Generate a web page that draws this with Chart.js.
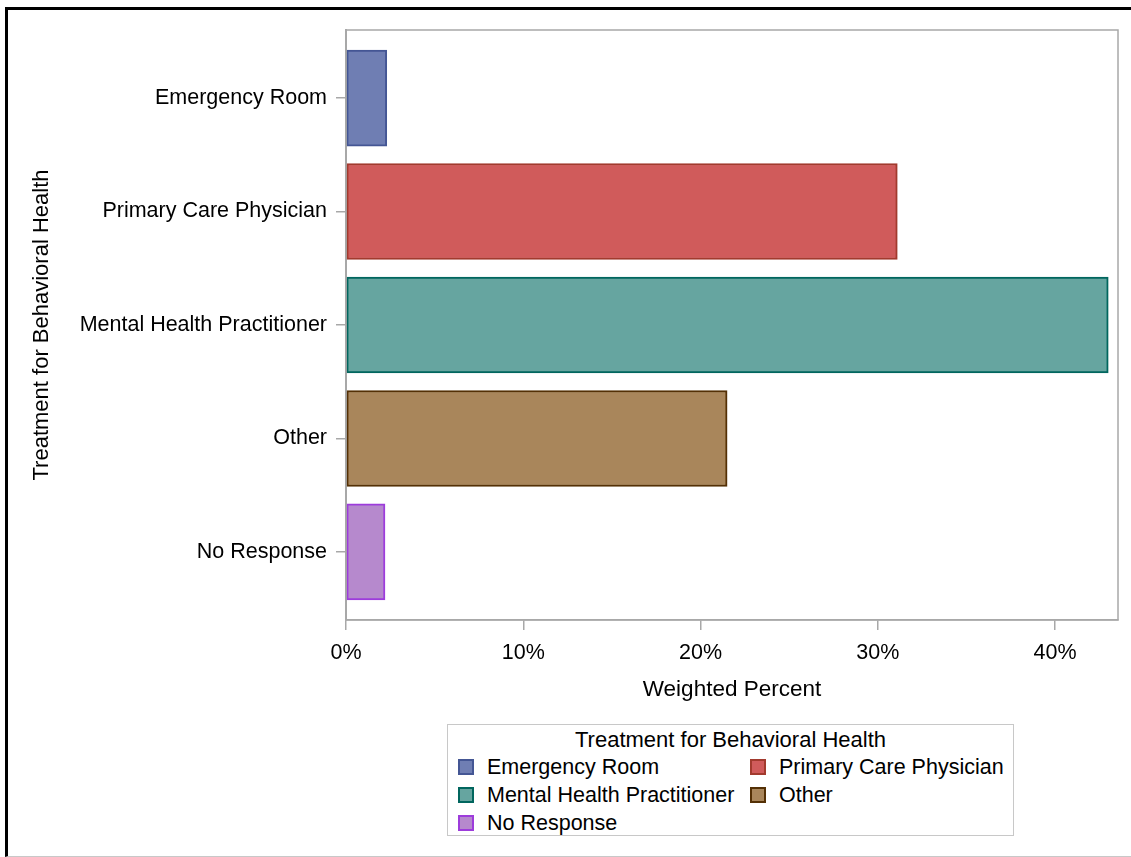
<!DOCTYPE html>
<html>
<head>
<meta charset="utf-8">
<script src="https://cdn.jsdelivr.net/npm/chart.js@4"></script>
<style>
  html, body { margin: 0; padding: 0; background: #fff; }
  body { width: 1131px; height: 857px; position: relative; overflow: hidden; font-family: 'Liberation Sans', Arial, sans-serif; }
  #frame { position: absolute; left: 5px; top: 7px; width: 1140px; height: 846px; border-top: 3px solid #000; border-left: 3px solid #000; border-bottom: 1px solid #c8c8c8; }
  #c { position: absolute; left: 0; top: 0; }
  #legend { position: absolute; left: 447px; top: 724px; width: 565px; height: 110px; border: 1px solid #c8c8c8; background: #fff; }
  #legend .title { position: absolute; left: 0; right: 0; top: 2px; text-align: center; font-size: 22px; line-height: 26px; color: #000; }
  #legend .item { position: absolute; font-size: 21.5px; line-height: 24px; color: #000; white-space: nowrap; }
  #legend .sw { position: absolute; width: 12px; height: 12px; border: 2px solid; top: 4px; left: 0; }
  #legend .lbl { position: absolute; left: 29px; top: 0; }
</style>
</head>
<body>
<div id="frame"></div>
<canvas id="c" width="1131" height="857"></canvas>
<div id="legend"><div class="title">Treatment for Behavioral Health</div></div>
<script>
const categories = ['Emergency Room', 'Primary Care Physician', 'Mental Health Practitioner', 'Other', 'No Response'];
const weightedPercent = [2.3, 31.1, 43.0, 21.5, 2.2];
const xTickValues = [0, 10, 20, 30, 40];
const fillColors = ['#6F7EB3', '#D05B5B', '#66A5A0', '#A9865B', '#B689CD'];
const lineColors = ['#445694', '#A23A2E', '#01665E', '#543005', '#9D3CDB'];
const yTitle = 'Treatment for Behavioral Health';
const xTitle = 'Weighted Percent';

const FONT = "'Liberation Sans', Arial, sans-serif";
const axisGrey = '#a8a8a8';

const datasets = categories.map((cat, i) => ({
  label: cat,
  data: [{ x: weightedPercent[i], y: i }],
  backgroundColor: fillColors[i],
  borderColor: lineColors[i],
  borderWidth: 2,
  borderSkipped: false,
  barThickness: 96,
  grouped: false
}));

const frameBox = {
  id: 'frameBox',
  afterDraw(chart) {
    const { ctx, chartArea: a } = chart;
    ctx.save();
    ctx.strokeStyle = axisGrey;
    ctx.lineWidth = 1.5;
    ctx.strokeRect(a.left, a.top, a.right - a.left, a.bottom - a.top);
    ctx.restore();
  }
};

new Chart(document.getElementById('c'), {
  type: 'bar',
  data: { datasets },
  plugins: [frameBox],
  options: {
    indexAxis: 'y',
    responsive: false,
    animation: false,
    events: [],
    layout: { padding: { left: 0, top: 30, right: 13, bottom: 137 } },
    plugins: { legend: { display: false }, tooltip: { enabled: false } },
    scales: {
      y: {
        type: 'linear',
        min: -0.6,
        max: 4.6,
        reverse: true,
        offset: false,
        afterBuildTicks(scale) { scale.ticks = categories.map((_, i) => ({ value: i })); },
        afterFit(scale) { scale.width = 346; },
        ticks: {
          callback: (v) => categories[v],
          font: { family: FONT, size: 21.5 },
          color: '#000',
          padding: 9,
          autoSkip: false
        },
        grid: { offset: false, drawOnChartArea: false, drawTicks: true, tickLength: 10, color: axisGrey, lineWidth: 1.5 },
        border: { display: true, color: axisGrey, width: 2 },
        title: { display: true, text: yTitle, font: { family: FONT, size: 22 }, color: '#000', padding: { top: 29, bottom: 0 } }
      },
      x: {
        type: 'linear',
        min: 0,
        max: 43.55,
        afterBuildTicks(scale) { scale.ticks = xTickValues.map(v => ({ value: v })); },
        afterFit(scale) { scale.height = 100; },
        ticks: {
          callback: (v) => v + '%',
          font: { family: FONT, size: 21.5 },
          color: '#000',
          padding: 10,
          maxRotation: 0
        },
        grid: { drawOnChartArea: false, drawTicks: true, tickLength: 10, color: axisGrey, lineWidth: 1.5 },
        border: { display: true, color: axisGrey, width: 1.5 },
        title: { display: true, text: xTitle, font: { family: FONT, size: 22.5 }, color: '#000', padding: { top: 0, bottom: 17 } }
      }
    }
  }
});

// HTML legend built from the same arrays
const legend = document.getElementById('legend');
categories.forEach((cat, i) => {
  const col = i % 2, row = Math.floor(i / 2);
  const item = document.createElement('div');
  item.className = 'item';
  item.style.left = (col === 0 ? 10 : 302) + 'px';
  item.style.top = (30 + row * 28) + 'px';
  const sw = document.createElement('span');
  sw.className = 'sw';
  sw.style.background = fillColors[i];
  sw.style.borderColor = lineColors[i];
  const lbl = document.createElement('span');
  lbl.className = 'lbl';
  lbl.textContent = cat;
  item.appendChild(sw);
  item.appendChild(lbl);
  legend.appendChild(item);
});
</script>
</body>
</html>
